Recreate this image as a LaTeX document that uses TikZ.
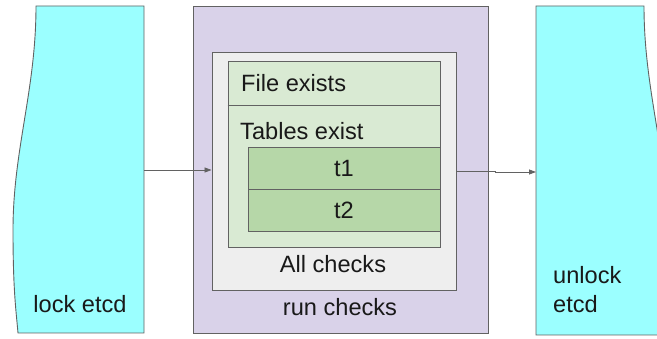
\documentclass[tikz,border=0pt]{standalone}
\usepackage{fontspec}
\setmainfont{Liberation Sans}
\usetikzlibrary{arrows.meta, positioning, calc}

\definecolor{lockcyan}{HTML}{9BFFFF}
\definecolor{runpurple}{HTML}{D9D2E9}
\definecolor{allgray}{HTML}{EEEEEE}
\definecolor{checkgreen}{HTML}{D9EAD3}
\definecolor{tablegreen}{HTML}{B6D7A8}
\definecolor{edgegray}{HTML}{626262}

\tikzset{
    box/.style={draw=edgegray, line width=0.9pt, rectangle, inner sep=0pt},
    lbl/.style={inner sep=0pt, font=\fontsize{23.6}{29}\selectfont, text=black!90},
    arr/.style={draw=edgegray, line width=0.8pt, -{Triangle[length=7pt, width=5pt]}}
}

\begin{document}
\begin{tikzpicture}[x=1pt, y=-1pt]

    \useasboundingbox (0,0) rectangle (657,339);

    % ============================================================
    % LOCK ETCD
    % ============================================================
    \draw[edgegray, line width=0.9pt, fill=lockcyan]
        (36,6) -- (144,6) -- (144,333) -- (18,333)
        .. controls (16,310) and (13,290) .. (13,230)
        .. controls (13,150) and (36,90) .. (36,6) -- cycle;
    \coordinate (lockE) at (144,170);
    \node[lbl, anchor=base] (lockTxt) at (80,313) {lock etcd};

    % ============================================================
    % UNLOCK ETCD (runs past the right edge)
    % ============================================================
    \begin{scope}
        \clip (0,0) rectangle (657,339);
        \draw[edgegray, line width=0.9pt, fill=lockcyan]
            (644,6) -- (536,6) -- (536,335) -- (662,335)
            .. controls (664,310) and (667,290) .. (667,230)
            .. controls (667,150) and (644,90) .. (644,6) -- cycle;
    \end{scope}
    \coordinate (unlockW) at (536,172);
    \node[lbl, anchor=west, align=left] (unlockTxt) at (553,289.5) {unlock\\etcd};

    % ============================================================
    % RUN CHECKS
    % ============================================================
    \node[box, fill=runpurple, minimum width=295pt, minimum height=327pt]
        (run) at (340.5,169.5) {};
    \node[lbl, anchor=base] (runTxt) at (340,316) {run checks};

    \node[box, fill=allgray, minimum width=244pt, minimum height=238pt]
        (all) at (334,171) {};
    \node[lbl, anchor=base] (allTxt) at (333,273) {All checks};

    % ============================================================
    % FILE / TABLES
    % ============================================================
    \node[box, fill=checkgreen, minimum width=212pt, minimum height=186pt]
        (tables) at (334,154) {};
    \draw[edgegray, line width=0.9pt] (tables.west |- 0,105) -- (tables.east |- 0,105);
    \node[lbl, anchor=base west] (fileTxt) at (241,92) {File exists};
    \node[lbl, anchor=base west] (tablesTxt) at (240,140) {Tables exist};

    \node[box, fill=tablegreen, minimum width=192pt, minimum height=42pt]
        (t1) at (344,168) {};
    \node[box, fill=tablegreen, minimum width=192pt, minimum height=42pt]
        (t2) at (344,210) {};
    \node[lbl] at (t1) {t1};
    \node[lbl] at (t2) {t2};

    % ============================================================
    % CONNECTORS
    % ============================================================
    \draw[arr] (lockE) -- (lockE -| all.west);
    \draw[arr] (all.east) -- ++(39,0) |- (unlockW);

\end{tikzpicture}
\end{document}
